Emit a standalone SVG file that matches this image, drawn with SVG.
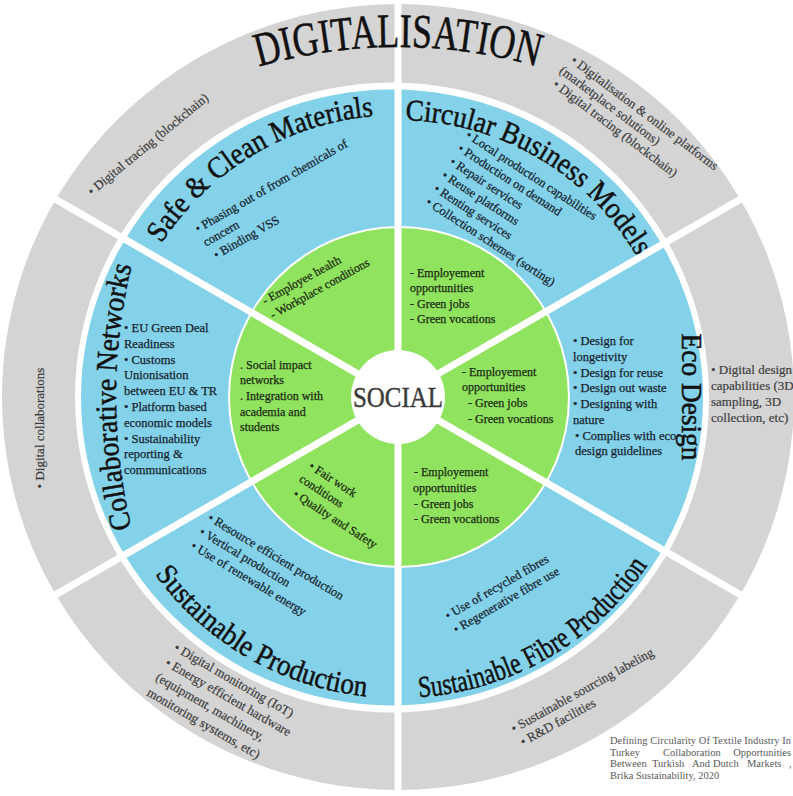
<svg xmlns="http://www.w3.org/2000/svg" width="793" height="796" viewBox="0 0 793 796">
<style>
text{font-family:"Liberation Serif","DejaVu Serif",serif}
.title{font-size:30px;fill:#111;stroke:#111;stroke-width:0.5}
.big{font-size:48px;fill:#111;stroke:#111;stroke-width:0.5}
.bb{font-size:12.5px;fill:#17242f;stroke:#17242f;stroke-width:0.25}
.gt{font-size:12px;fill:#1b2a12;stroke:#1b2a12;stroke-width:0.25}
.gr{font-size:13px;fill:#3d3d3d;stroke:#3d3d3d;stroke-width:0.2}
.cit{font-size:10.5px;fill:#5a5a5a}
.div{stroke:#fff;stroke-width:7}
</style>
<defs>
<path id="pDig" d="M148,114 A500,500 0 0,1 648,114"/>
<path id="pSafe" d="M119.5,352.9 A282,282 0 0,1 489.8,130.4"/>
<path id="pCirc" d="M305.5,135.9 A277,277 0 0,1 671.2,351.3"/>
<path id="pSP" d="M101.6,449.3 A301,301 0 0,0 500.9,679.9"/>
<path id="pSFP" d="M295.1,679.9 A301,301 0 0,0 694.4,449.3"/>
<path id="pCN" d="M149.8,588.5 A560,560 0 0,1 149.8,205.5"/>
</defs>
<rect width="793" height="796" fill="#fff"/>
<g id="rings">
<ellipse cx="398" cy="397" rx="396" ry="393" fill="#d4d4d4"/>
<ellipse cx="392" cy="397.5" rx="317" ry="315" fill="#fff"/>
<ellipse cx="392" cy="397.5" rx="311" ry="308" fill="#84d2ea"/>
<circle cx="399" cy="397" r="171" fill="#fff"/>
<circle cx="399" cy="397" r="169" fill="#90e35e"/>
</g>
<g id="connectors">
<line class="div" x1="398" y1="-5" x2="398" y2="801"/>
<line class="div" x1="-2" y1="628" x2="798" y2="166"/>
<line class="div" x1="-2" y1="166" x2="798" y2="628"/>
</g>
<g id="social">
<circle cx="398" cy="397" r="47" fill="#fff"/>
<text x="398" y="407" text-anchor="middle" font-size="29" fill="#3a3a3a" stroke="#3a3a3a" stroke-width="0.4" textLength="90" lengthAdjust="spacingAndGlyphs">SOCIAL</text>
</g>
<g id="digitalisation">
<text class="big"><textPath href="#pDig" startOffset="50%" text-anchor="middle" textLength="282" lengthAdjust="spacingAndGlyphs">DIGITALISATION</textPath></text>
<text class="gr" font-size="12.5" transform="translate(92,196) rotate(-39.5)">• Digital tracing (blockchain)</text>
<text class="gr" transform="translate(570,62) rotate(37)"><tspan x="0" y="0">• Digitalisation &amp; online platforms</tspan><tspan x="-3" y="15">(marketplace solutions)</tspan><tspan x="0" y="30">• Digital tracing (blockchain)</tspan></text>
<text class="gr" font-size="11.5"><tspan x="711" y="374">• Digital design</tspan><tspan x="711" y="390">capabilities (3D</tspan><tspan x="711" y="406">sampling, 3D</tspan><tspan x="711" y="422">collection, etc)</tspan></text>
<text class="gr" font-size="14" transform="translate(173,650) rotate(30)"><tspan x="0" y="0">• Digital monitoring (IoT)</tspan><tspan x="0" y="17.5">• Energy efficient hardware</tspan><tspan x="-1" y="35">(equipment, machinery,</tspan><tspan x="-1" y="52.5">monitoring systems, etc)</tspan></text>
<text class="gr" font-size="13.5" transform="translate(514,733) rotate(-29)"><tspan x="0" y="0">• Sustainable sourcing labeling</tspan><tspan x="1.6" y="16">• R&amp;D facilities</tspan></text>
<text class="gr" font-size="14" transform="translate(44,428) rotate(-90)" text-anchor="middle">• Digital collaborations</text>
</g>
<g id="safe-clean-materials">
<text class="title"><textPath href="#pSafe" startOffset="50%" text-anchor="middle" textLength="256" lengthAdjust="spacingAndGlyphs">Safe &amp; Clean Materials</textPath></text>
<text class="bb" transform="translate(198,233) rotate(-30)"><tspan x="0" y="0">• Phasing out of from chemicals of</tspan><tspan x="0" y="16">concern</tspan><tspan x="3" y="32">• Binding VSS</tspan></text>
<text class="gt" transform="translate(265,305) rotate(-29)"><tspan x="0" y="0">- Employee health</tspan><tspan x="0" y="16">- Workplace conditions</tspan></text>
</g>
<g id="circular-business-models">
<text class="title"><textPath href="#pCirc" startOffset="50%" text-anchor="middle" textLength="280" lengthAdjust="spacingAndGlyphs">Circular Business Models</textPath></text>
<text class="bb" transform="translate(465,137) rotate(33)"><tspan x="0" y="0">• Local production capabilities</tspan><tspan x="0.6" y="15.6">• Production on demand</tspan><tspan x="1.2" y="31.2">• Repair services</tspan><tspan x="1.8" y="46.8">• Reuse platforms</tspan><tspan x="2.4" y="62.4">• Renting services</tspan><tspan x="3" y="78">• Collection schemes (sorting)</tspan></text>
<text class="gt"><tspan x="410" y="277">- Employement</tspan><tspan x="410" y="292">opportunities</tspan><tspan x="410" y="308">- Green jobs</tspan><tspan x="410" y="323">- Green vocations</tspan></text>
</g>
<g id="eco-design">
<text class="title" font-size="29" transform="translate(682,397) rotate(90)" text-anchor="middle" textLength="127" lengthAdjust="spacingAndGlyphs">Eco Design</text>
<text class="bb"><tspan x="573" y="345">• Design for</tspan><tspan x="573" y="361">longetivity</tspan><tspan x="573" y="377">• Design for reuse</tspan><tspan x="573" y="392">• Design out waste</tspan><tspan x="573" y="408">• Designing with</tspan><tspan x="573" y="424">nature</tspan><tspan x="575" y="440">• Complies with eco</tspan><tspan x="575" y="455">design guidelines</tspan></text>
<text class="gt"><tspan x="462" y="376">- Employement</tspan><tspan x="462" y="391">opportunities</tspan><tspan x="468" y="407">- Green jobs</tspan><tspan x="468" y="423">- Green vocations</tspan></text>
</g>
<g id="sustainable-fibre-production">
<text class="title" font-size="31"><textPath href="#pSFP" startOffset="50%" text-anchor="middle" textLength="273" lengthAdjust="spacingAndGlyphs">Sustainable Fibre Production</textPath></text>
<text class="bb" font-size="14.5" transform="translate(448,620) rotate(-30)"><tspan x="0" y="0">• Use of recycled fibres</tspan><tspan x="0.4" y="16">• Regenerative fibre use</tspan></text>
<text class="gt"><tspan x="414" y="476">- Employement</tspan><tspan x="413" y="492">opportunities</tspan><tspan x="414" y="508">- Green jobs</tspan><tspan x="414" y="523">- Green vocations</tspan></text>
</g>
<g id="sustainable-production">
<text class="title" font-size="31"><textPath href="#pSP" startOffset="50%" text-anchor="middle" textLength="251" lengthAdjust="spacingAndGlyphs">Sustainable Production</textPath></text>
<text class="bb" font-size="13" transform="translate(207,520) rotate(31)"><tspan x="0" y="0">• Resource efficient production</tspan><tspan x="0" y="16.4">• Vertical production</tspan><tspan x="0" y="32.8">• Use of renewable energy</tspan></text>
<text class="gt" font-size="12.5" transform="translate(308,468) rotate(33)"><tspan x="0" y="0">• Fair work</tspan><tspan x="-1" y="16">conditions</tspan><tspan x="2" y="32">• Quality and Safety</tspan></text>
</g>
<g id="collaborative-networks">
<text class="title"><textPath href="#pCN" startOffset="50%" text-anchor="middle" textLength="265" lengthAdjust="spacingAndGlyphs">Collaborative Networks</textPath></text>
<text class="bb"><tspan x="124" y="332">• EU Green Deal</tspan><tspan x="124" y="348">Readiness</tspan><tspan x="124" y="364">• Customs</tspan><tspan x="124" y="379">Unionisation</tspan><tspan x="124" y="395">between EU &amp; TR</tspan><tspan x="124" y="411">• Platform based</tspan><tspan x="124" y="427">economic models</tspan><tspan x="124" y="443">• Sustainability</tspan><tspan x="124" y="458">reporting &amp;</tspan><tspan x="124" y="474">communications</tspan></text>
<text class="gt"><tspan x="240" y="369">. Social impact</tspan><tspan x="240" y="384">networks</tspan><tspan x="240" y="400">. Integration with</tspan><tspan x="240" y="416">academia and</tspan><tspan x="240" y="431">students</tspan></text>
</g>
<g id="citation" class="cit">
<text x="610" y="744" textLength="181" lengthAdjust="spacing">Defining Circularity Of Textile Industry In</text>
<text y="756"><tspan x="610">Turkey</tspan><tspan x="663">Collaboration</tspan><tspan x="791" text-anchor="end">Opportunities</tspan></text>
<text y="767"><tspan x="610">Between</tspan><tspan x="652">Turkish</tspan><tspan x="692">And</tspan><tspan x="713">Dutch</tspan><tspan x="747">Markets</tspan><tspan x="789">,</tspan></text>
<text x="610" y="779">Brika Sustainability, 2020</text>
</g>
</svg>
